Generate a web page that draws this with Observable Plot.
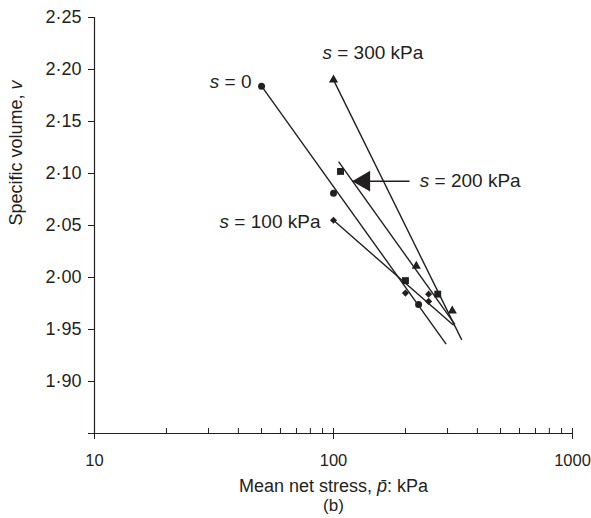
<!DOCTYPE html>
<html>
<head>
<meta charset="utf-8">
<script src="https://cdn.jsdelivr.net/npm/d3@7"></script>
<script src="https://cdn.jsdelivr.net/npm/@observablehq/plot@0.6"></script>
<style>
  html, body { margin: 0; padding: 0; background: #fff; }
  svg { display: block; }
</style>
</head>
<body>
<div id="chart"></div>
<script>
// ---- axis definitions ----
const xDomain = [10, 1000];
const yDomain = [1.85, 2.25];
const xMajorTicks = [10, 100, 1000];
const xMinorTicks = [20, 30, 40, 50, 60, 70, 80, 90, 200, 300, 400, 500, 600, 700, 800, 900];
const yTicks = [1.85, 1.90, 1.95, 2.00, 2.05, 2.10, 2.15, 2.20, 2.25];
const yTickLabels = ["", "1·90", "1·95", "2·00", "2·05", "2·10", "2·15", "2·20", "2·25"];

// ---- measured points (mean net stress kPa, specific volume) ----
const s0Stress = [50, 100, 227];
const s0Volume = [2.184, 2.081, 1.974];
const s100Stress = [100, 200, 250, 250];
const s100Volume = [2.055, 1.985, 1.984, 1.977];
const s200Stress = [107, 200, 273];
const s200Volume = [2.102, 1.997, 1.984];
const s300Stress = [100, 222, 314];
const s300Volume = [2.190, 2.011, 1.968];

// ---- fitted lines per series ----
const seriesNames = ["s = 0", "s = 100 kPa", "s = 200 kPa", "s = 300 kPa"];
const lineStartStress = [50, 100, 105, 100];
const lineStartVolume = [2.184, 2.055, 2.1115, 2.190];
const lineEndStress = [296, 318, 322, 344];
const lineEndVolume = [1.936, 1.954, 1.955, 1.940];

// ---- annotation anchors (data units) ----
const labelStress = [45.4, 88.2, 229.6, 89.9];
const labelVolume = [2.1885, 2.0536, 2.0926, 2.2159];
const arrowTipStress = 119.7;
const arrowTailStress = 208;
const arrowVolume = 2.0926;

const ink = "#231f20";
const font = "'Liberation Sans', Arial, Helvetica, sans-serif";

const pts = (xs, ys) => xs.map((x, i) => ({x, y: ys[i]}));
const lines = seriesNames.map((s, i) => ({
  s, x1: lineStartStress[i], y1: lineStartVolume[i], x2: lineEndStress[i], y2: lineEndVolume[i]
}));
const labels = seriesNames.map((s, i) => ({s, x: labelStress[i], y: labelVolume[i]}));
const leftLabels = labels.filter((d, i) => i === 0 || i === 1);
const rightLabels = labels.filter((d, i) => i === 2 || i === 3);
const arrow = [{x1: arrowTipStress, x2: arrowTailStress, y: arrowVolume}];

const svg = Plot.plot({
  width: 591,
  height: 518,
  marginLeft: 94,
  marginRight: 19,
  marginTop: 17,
  marginBottom: 85,
  style: {fontFamily: font, fontSize: "18px", color: ink, background: "#fff"},
  x: {type: "log", domain: xDomain},
  y: {domain: yDomain},
  marks: [
    // axes
    Plot.axisY({ticks: yTicks, tickSize: 6, tickPadding: 7, fontSize: 18,
      tickFormat: (d) => yTickLabels[yTicks.indexOf(d)], label: null, stroke: ink, fill: ink}),
    Plot.axisX({ticks: xMajorTicks, tickSize: 6, tickPadding: 15, fontSize: 16.5,
      tickFormat: (d) => String(d), label: null, stroke: ink, fill: ink}),
    Plot.axisX({ticks: xMajorTicks.concat(xMinorTicks), tickSize: 5, dy: -5,
      tickFormat: () => "", label: null, stroke: ink}),
    Plot.ruleX([xDomain[0]], {stroke: ink, strokeWidth: 1.2}),
    Plot.ruleY([yDomain[0]], {stroke: ink, strokeWidth: 1.2}),
    // axis titles
    Plot.text(["Specific volume, v"], {frameAnchor: "left", rotate: -90, dx: -78,
      fontSize: 18, fill: ink}),
    Plot.text(["Mean net stress, p\u0304: kPa"], {frameAnchor: "bottom", dy: 58,
      fontSize: 18, fill: ink}),
    Plot.text(["(b)"], {frameAnchor: "bottom", dy: 77, fontSize: 17, fill: ink}),
    // fitted lines
    Plot.link(lines, {x1: "x1", y1: "y1", x2: "x2", y2: "y2", stroke: ink, strokeWidth: 1.4}),
    // points
    Plot.dot(pts(s0Stress, s0Volume), {x: "x", y: "y", symbol: "circle", r: 3.5, fill: ink, stroke: "none"}),
    Plot.dot(pts(s100Stress, s100Volume), {x: "x", y: "y", symbol: "diamond2", r: 3.2, fill: ink, stroke: "none"}),
    Plot.dot(pts(s200Stress, s200Volume), {x: "x", y: "y", symbol: "square", r: 3.9, fill: ink, stroke: "none"}),
    Plot.dot(pts(s300Stress, s300Volume), {x: "x", y: "y", symbol: "triangle", r: 3.4, fill: ink, stroke: "none"}),
    // arrow for s = 200 kPa
    Plot.link(arrow, {x1: "x1", x2: "x2", y1: "y", y2: "y", stroke: ink, strokeWidth: 1.6}),
    Plot.dot(arrow, {x: "x1", y: "y", symbol: "triangle", r: 7.7, rotate: -90, dx: 12, fill: ink, stroke: "none"}),
    // series labels
    Plot.text(leftLabels, {x: "x", y: "y", text: "s", textAnchor: "end", fontSize: 19, fill: ink}),
    Plot.text(rightLabels, {x: "x", y: "y", text: "s", textAnchor: "start", fontSize: 19, fill: ink})
  ]
});

// italic math symbols in labels (post-process the rendered text)
const sel = d3.select(svg);
sel.selectAll("text").each(function() {
  const t = this.textContent;
  const el = d3.select(this);
  if (seriesNames.includes(t)) {
    el.text(null);
    el.append("tspan").attr("font-style", "italic").text("s");
    el.append("tspan").text(t.slice(1));
  } else if (t === "Specific volume, v") {
    el.text(null);
    el.append("tspan").text("Specific volume, ");
    el.append("tspan").attr("font-style", "italic").text("v");
  } else if (t === "Mean net stress, p\u0304: kPa") {
    el.text(null);
    el.append("tspan").text("Mean net stress, ");
    el.append("tspan").attr("font-style", "italic").text("p\u0304");
    el.append("tspan").text(": kPa");
  }
});

document.getElementById("chart").appendChild(svg);
</script>
</body>
</html>
